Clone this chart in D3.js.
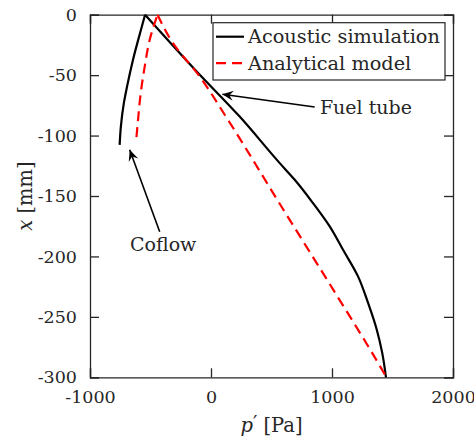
<!DOCTYPE html>
<html>
<head>
<meta charset="utf-8">
<script src="https://cdn.jsdelivr.net/npm/d3@7/dist/d3.min.js"></script>
<style>
  body { margin: 0; background: #fff; }
  text { font-family: "DejaVu Serif", serif; fill: #262626; }
</style>
</head>
<body>
<div id="vis"></div>
<script>
// acoustic simulation, coflow branch  [p' Pa, x mm]
var simCoflowP = [-755, -745, -720, -694, -645, -572, -545];
var simCoflowX = [-107.7, -92.6, -73, -59.5, -37.4, -9.9, 0];
// acoustic simulation, fuel tube branch
var simFuelP = [-545, -130, 237, 568, 692, 843, 981, 1091, 1215, 1298, 1370, 1415, 1446];
var simFuelX = [0, -45.7, -84.3, -122.8, -136.6, -155.9, -175.2, -194.5, -216.5, -238.5, -260.6, -279.8, -300];
// analytical model, coflow branch
var modCoflowP = [-616, -603, -581, -548, -507, -442];
var modCoflowX = [-101.3, -87, -65, -43, -20.9, 0];
// analytical model, fuel tube branch
var modFuelP = [-442, -314, -93, 115, 582, 1010, 1365, 1450];
var modFuelX = [0, -23.6, -51.2, -83, -158.7, -227.5, -285.4, -300];

var xTicks = [-1000, 0, 1000, 2000];
var yTicks = [0, -50, -100, -150, -200, -250, -300];
var legendLabels = ["Acoustic simulation", "Analytical model"];

var width = 474, height = 445;
var mLeft = 90, mRight = 453, mTop = 14.7, mBottom = 377.3;

var svg = d3.select("#vis").append("svg")
    .attr("width", width)
    .attr("height", height);

var x = d3.scaleLinear().domain([-1000, 2000]).range([mLeft, mRight]);
var y = d3.scaleLinear().domain([-300, 0]).range([mBottom, mTop]);

function pts(ps, xs) { return ps.map(function(p, i) { return [p, xs[i]]; }); }

var line = d3.line()
    .x(function(d) { return x(d[0]); })
    .y(function(d) { return y(d[1]); })
    .curve(d3.curveMonotoneY);

var axisColor = "#262626";
var fmt = function(d) { return d < 0 ? "-" + Math.abs(d) : String(d); };
var none = function() { return ""; };

// axes with inward ticks
svg.append("g")
    .attr("transform", "translate(0," + mBottom + ")")
    .call(d3.axisBottom(x).tickValues(xTicks).tickSize(-9).tickPadding(13).tickFormat(fmt))
    .call(styleAxis);
svg.append("g")
    .attr("transform", "translate(0," + mTop + ")")
    .call(d3.axisTop(x).tickValues(xTicks).tickSize(-9).tickFormat(none))
    .call(styleAxis);
svg.append("g")
    .attr("transform", "translate(" + mLeft + ",0)")
    .call(d3.axisLeft(y).tickValues(yTicks).tickSize(-9).tickPadding(13).tickFormat(fmt))
    .call(styleAxis);
svg.append("g")
    .attr("transform", "translate(" + mRight + ",0)")
    .call(d3.axisRight(y).tickValues(yTicks).tickSize(-9).tickFormat(none))
    .call(styleAxis);

function styleAxis(g) {
  g.select(".domain").attr("stroke", axisColor).attr("stroke-width", 1.3);
  g.selectAll(".tick line").attr("stroke", axisColor).attr("stroke-width", 1.3);
  g.selectAll(".tick text")
      .style("font-family", "DejaVu Serif, serif")
      .style("font-size", "17.5px")
      .attr("fill", axisColor);
}

// curves
var series = [
  { data: pts(simCoflowP, simCoflowX), color: "#000", dash: null },
  { data: pts(simFuelP, simFuelX), color: "#000", dash: null },
  { data: pts(modCoflowP, modCoflowX), color: "#ff0000", dash: "10,6" },
  { data: pts(modFuelP, modFuelX), color: "#ff0000", dash: "10,6" }
];

svg.append("g").selectAll("path")
    .data(series)
    .enter().append("path")
      .attr("d", function(d) { return line(d.data); })
      .attr("fill", "none")
      .attr("stroke", function(d) { return d.color; })
      .attr("stroke-width", 2.2)
      .attr("stroke-dasharray", function(d) { return d.dash; });

// arrowhead
svg.append("defs").append("marker")
    .attr("id", "head")
    .attr("viewBox", "-12 -6 14 12")
    .attr("markerWidth", 14)
    .attr("markerHeight", 12)
    .attr("markerUnits", "userSpaceOnUse")
    .attr("refX", 0)
    .attr("refY", 0)
    .attr("orient", "auto")
    .append("path")
      .attr("d", "M0,0 L-11,-5 L-7,0 L-11,5 Z")
      .attr("fill", "#000");

// annotations (tail -> tip in data units)
var notes = [
  { text: "Fuel tube", tail: [857, -76.3], tip: [94, -65.8], tx: 900, ty: -76.3, anchor: "start" },
  { text: "Coflow", tail: [-424, -179.6], tip: [-672, -111.8], tx: -395, ty: -190, anchor: "middle" }
];

notes.forEach(function(n) {
  svg.append("line")
      .attr("x1", x(n.tail[0])).attr("y1", y(n.tail[1]))
      .attr("x2", x(n.tip[0])).attr("y2", y(n.tip[1]))
      .attr("stroke", "#000")
      .attr("stroke-width", 1.6)
      .attr("marker-end", "url(#head)");
  svg.append("text")
      .attr("x", x(n.tx)).attr("y", y(n.ty))
      .attr("dy", "0.35em")
      .attr("text-anchor", n.anchor)
      .style("font-size", "19px")
      .attr("fill", "#000")
      .text(n.text);
});

// legend
var legend = svg.append("g");
legend.append("rect")
    .attr("x", 213).attr("y", 22.7)
    .attr("width", 232).attr("height", 57.3)
    .attr("fill", "#fff")
    .attr("stroke", axisColor)
    .attr("stroke-width", 1.2);

var legendItems = legend.selectAll("g.item")
    .data(legendLabels)
    .enter().append("g")
      .attr("class", "item")
      .attr("transform", function(d, i) { return "translate(0," + (36.7 + i * 26.5) + ")"; });

legendItems.append("line")
    .attr("x1", 216).attr("x2", 244)
    .attr("stroke", function(d, i) { return series[i * 2].color; })
    .attr("stroke-width", 2.2)
    .attr("stroke-dasharray", function(d, i) { return series[i * 2].dash; });

legendItems.append("text")
    .attr("x", 248)
    .attr("dy", "0.35em")
    .style("font-size", "19.3px")
    .attr("fill", "#000")
    .text(function(d) { return d; });

// axis labels
var xl = svg.append("text")
    .attr("x", (mLeft + mRight) / 2)
    .attr("y", 432)
    .attr("text-anchor", "middle")
    .style("font-size", "19.5px");
xl.append("tspan").style("font-style", "italic").text("p");
xl.append("tspan").attr("dy", -2).text("′");
xl.append("tspan").attr("dy", 2).text("  [Pa]");

var yl = svg.append("text")
    .attr("transform", "translate(32," + ((mTop + mBottom) / 2) + ") rotate(-90)")
    .attr("text-anchor", "middle")
    .style("font-size", "19.5px");
yl.append("tspan").style("font-style", "italic").text("x");
yl.append("tspan").text("  [mm]");
</script>
</body>
</html>
